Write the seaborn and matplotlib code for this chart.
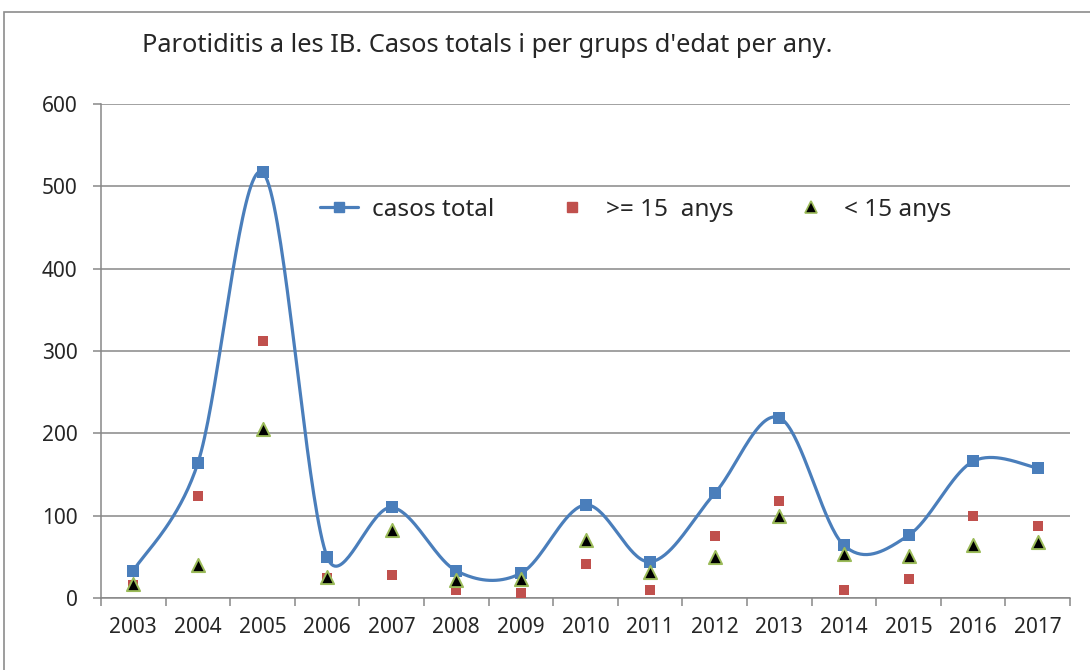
import numpy as np
import pandas as pd
import matplotlib
matplotlib.use("Agg")
import matplotlib.pyplot as plt
from matplotlib.lines import Line2D
from matplotlib.patches import Rectangle
import seaborn as sb

# data
years = ["2003", "2004", "2005", "2006", "2007", "2008", "2009", "2010",
         "2011", "2012", "2013", "2014", "2015", "2016", "2017"]
casos_total = [33, 164, 517, 50, 110, 33, 30, 113, 44, 127, 219, 64, 76, 166, 158]
majors_15 = [16, 124, 312, 24, 28, 10, 6, 41, 10, 75, 118, 10, 23, 100, 88]
menors_15 = [17, 40, 205, 26, 82, 22, 23, 70, 31, 50, 100, 54, 51, 64, 68]

blue = "#4A7EBB"
red = "#C0504D"
green = "#9BBB59"
grid_gray = "#878787"


def excel_smooth(y, sx, sy, n=40):
    # bezier smoothing like excel's "smoothed line", done in pixel space
    x = np.arange(len(y), dtype=float)
    pts = np.column_stack([x * sx, np.asarray(y, float) * sy])
    out = []
    for i in range(len(pts) - 1):
        p0 = pts[max(i - 1, 0)]
        p1 = pts[i]
        p2 = pts[i + 1]
        p3 = pts[min(i + 2, len(pts) - 1)]
        half = np.linalg.norm(p2 - p1) / 2
        t1 = (p2 - p0) / 6
        t2 = (p3 - p1) / 6
        if np.linalg.norm(t1) > half:
            t1 = t1 * half / np.linalg.norm(t1)
        if np.linalg.norm(t2) > half:
            t2 = t2 * half / np.linalg.norm(t2)
        c1 = p1 + t1
        c2 = p2 - t2
        t = np.linspace(0, 1, n)[:, None]
        seg = ((1 - t) ** 3) * p1 + 3 * ((1 - t) ** 2) * t * c1 + 3 * (1 - t) * t ** 2 * c2 + t ** 3 * p2
        out.append(seg if i == 0 else seg[1:])
    out = np.vstack(out)
    return out[:, 0] / sx, out[:, 1] / sy


df = pd.DataFrame({"any": np.arange(len(years)),
                   "total": casos_total,
                   "majors": majors_15,
                   "menors": menors_15})

sb.set_style("white")
plt.rcParams['font.family'] = ['Noto Sans', 'DejaVu Sans']

fig = plt.figure(figsize=(10.9, 6.7), dpi=100)
ax = fig.add_axes([101 / 1090, 72 / 670, 969 / 1090, 494 / 670])

# chart area border
fig.patches.append(Rectangle((4 / 1090, -0.2), 1.2, 1.2 - 12 / 670,
                             transform=fig.transFigure, fill=False,
                             edgecolor="#8c8c8c", lw=1.2, zorder=0))

ax.set_xlim(-0.5, len(years) - 0.5)
ax.set_ylim(0, 600)

# smoothed total line
px_x = 969 / len(years)
px_y = 494 / 600
sx, sy = excel_smooth(casos_total, px_x, px_y)
ax.plot(sx, sy, color=blue, lw=2.3, zorder=3, solid_capstyle="round")

sb.scatterplot(data=df, x="any", y="total", marker="s", s=70, color=blue,
               edgecolor=blue, linewidth=0, zorder=4, ax=ax)
sb.scatterplot(data=df, x="any", y="majors", marker="s", s=50, color=red,
               edgecolor=red, linewidth=0, zorder=5, ax=ax)
sb.scatterplot(data=df, x="any", y="menors", marker="^", s=90, color="black",
               edgecolor=green, linewidth=1.4, zorder=6, ax=ax)

# axes styling
ax.set_yticks(range(0, 601, 100))
ax.yaxis.grid(True, color=grid_gray, lw=1.1)
ax.set_axisbelow(True)
ax.set_xticks(np.arange(-0.5, len(years), 1.0))
ax.set_xticks(np.arange(len(years)), minor=True)
ax.set_xticklabels([])
ax.set_xticklabels(years, minor=True)
ax.tick_params(axis="x", which="major", length=6, width=1.1, color=grid_gray,
               direction="out", bottom=True)
ax.tick_params(axis="x", which="minor", length=0, pad=14, labelsize=15)
ax.tick_params(axis="y", length=6, width=1.1, color=grid_gray, direction="out",
               left=True, pad=11, labelsize=15)
for side in ["top", "right"]:
    ax.spines[side].set_visible(False)
for side in ["left", "bottom"]:
    ax.spines[side].set_color(grid_gray)
    ax.spines[side].set_linewidth(1.1)
ax.set_xlabel("")
ax.set_ylabel("")

fig.text(142 / 1090, 1 - 45 / 670,
         "Parotiditis a les IB. Casos totals i per grups d'edat per any.",
         ha="left", va="center", fontsize=18.3)

handles = [
    Line2D([], [], color=blue, lw=2.3, marker="s", markersize=7.5),
    Line2D([], [], color=red, lw=0, marker="s", markersize=7),
    Line2D([], [], color="black", lw=0, marker="^", markersize=8.5,
           markeredgecolor=green, markeredgewidth=1.2),
]
ax.legend(handles, ["casos total", ">= 15  anys", "< 15 anys"], ncol=3,
          frameon=False, fontsize=17.5, loc="center left",
          bbox_to_anchor=(320 / 1090, 1 - 210 / 670),
          bbox_transform=fig.transFigure, borderpad=0, borderaxespad=0,
          handlelength=1.56, handletextpad=0.6, columnspacing=2.4)

fig.savefig("out.png", dpi=100)
